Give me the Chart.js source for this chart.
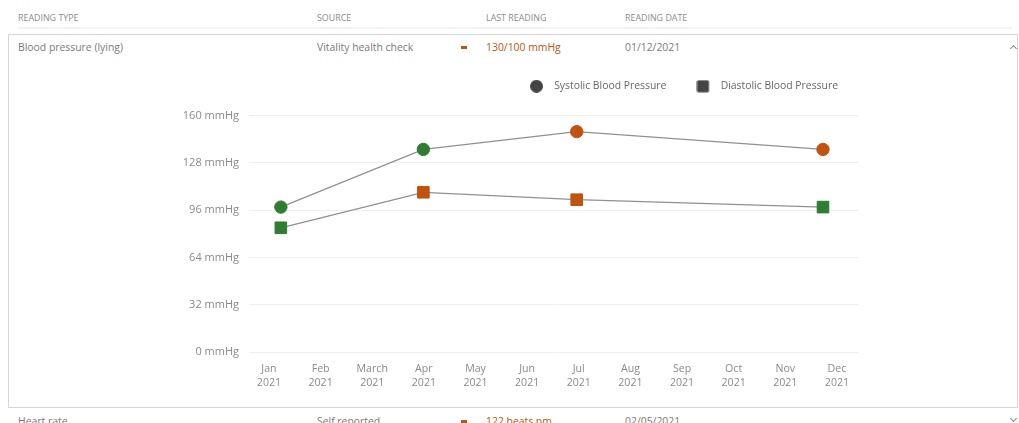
<!DOCTYPE html>
<html>
<head>
<meta charset="utf-8">
<script src="https://cdn.jsdelivr.net/npm/chart.js@4/dist/chart.umd.min.js"></script>
<style>
  body { margin: 0; width: 1019px; height: 423px; overflow: hidden; background: #fff; position: relative;
         font-family: "Open Sans", sans-serif; color: #7a7a7a; }
  .t { position: absolute; white-space: nowrap; line-height: 14px; }
  .hd { font-size: 8.9px; color: #8c8c8c; top: 11px; }
  .rw { font-size: 10.4px; }
  .hi { color: #c0530f; }
  .dash { position: absolute; width: 6px; height: 3px; background: #c0530f; }
  .hline { position: absolute; left: 18px; top: 27px; width: 994px; height: 2px; background: #f3f3f3; }
  .box { position: absolute; left: 8px; top: 34px; width: 1008px; height: 372px; border: 1px solid #d6d6d6; }
  .chev { position: absolute; width: 4px; height: 4px; border-left: 1px solid #888; border-top: 1px solid #888; }
  #wrap { position: absolute; left: 170px; top: 51px; width: 688px; height: 345px; }
</style>
</head>
<body>
<div class="t hd" style="left:18px">READING TYPE</div>
<div class="t hd" style="left:317px">SOURCE</div>
<div class="t hd" style="left:486px">LAST READING</div>
<div class="t hd" style="left:625px">READING DATE</div>
<div class="hline"></div>
<div class="box"></div>

<div class="t rw" style="left:18px;top:40px">Blood pressure (lying)</div>
<div class="t rw" style="left:317px;top:40px">Vitality health check</div>
<div class="dash" style="left:461px;top:46px"></div>
<div class="t rw hi" style="left:486px;top:40px">130/100 mmHg</div>
<div class="t rw" style="left:625px;top:40px">01/12/2021</div>
<div class="chev" style="left:1011px;top:46px;transform:rotate(45deg)"></div>

<div class="t rw" style="left:18px;top:414px">Heart rate</div>
<div class="t rw" style="left:317px;top:414px">Self reported</div>
<div class="dash" style="left:461px;top:420px"></div>
<div class="t rw hi" style="left:486px;top:414px">122 beats pm</div>
<div class="t rw" style="left:625px;top:414px">02/05/2021</div>
<div class="chev" style="left:1011px;top:416px;transform:rotate(225deg)"></div>

<div id="wrap"><canvas id="chart"></canvas></div>

<script>
const monthLabels = ['Jan', 'Feb', 'March', 'Apr', 'May', 'Jun', 'Jul', 'Aug', 'Sep', 'Oct', 'Nov', 'Dec'];
const yearLabel = '2021';
// reading positions along the year, in months from Jan
const readingMonths = [0.23, 2.99, 5.96, 10.73];
const systolic = [98, 137, 149, 137];
const diastolic = [84, 108, 103, 98];
const systolicStatus = ['ok', 'ok', 'high', 'high'];
const diastolicStatus = ['ok', 'high', 'high', 'ok'];
const yTicks = [0, 32, 64, 96, 128, 160];

const statusColor = { ok: '#2e7d32', high: '#c0530f' };
const legendGrey = '#444';

Chart.defaults.font.family = "'Open Sans', sans-serif";
Chart.defaults.font.size = 11;
Chart.defaults.color = '#8a8a8a';

function marker(shape) {
  const c = document.createElement('canvas');
  c.width = 19; c.height = 13;
  const g = c.getContext('2d');
  g.fillStyle = legendGrey;
  if (shape === 'circle') {
    g.beginPath(); g.arc(6.5, 6.5, 6.5, 0, Math.PI * 2); g.fill();
  } else {
    g.beginPath(); g.roundRect(0.5, 0.5, 12, 12, 1.5); g.fill();
  }
  return c;
}

const legendTweak = {
  id: 'legendTweak',
  beforeInit(chart) {
    const fit = chart.legend.fit;
    chart.legend.fit = function () { fit.call(this); this.height += 14; };
  },
  afterLayout(chart) {
    chart.legend.left += 10;
    chart.legend.right += 10;
  }
};

const toPoints = vals => readingMonths.map((m, i) => ({ x: m, y: vals[i] }));

new Chart(document.getElementById('chart'), {
  type: 'line',
  data: {
    datasets: [
      {
        label: 'Systolic Blood Pressure',
        data: toPoints(systolic),
        borderColor: '#909090',
        borderWidth: 1.3,
        pointStyle: 'circle',
        pointRadius: 6.2,
        pointBorderWidth: 1,
        pointBackgroundColor: systolicStatus.map(s => statusColor[s]),
        pointBorderColor: systolicStatus.map(s => statusColor[s])
      },
      {
        label: 'Diastolic Blood Pressure',
        data: toPoints(diastolic),
        borderColor: '#909090',
        borderWidth: 1.3,
        pointStyle: 'rect',
        pointRadius: 8.2,
        pointBorderWidth: 1,
        pointBackgroundColor: diastolicStatus.map(s => statusColor[s]),
        pointBorderColor: diastolicStatus.map(s => statusColor[s])
      }
    ]
  },
  options: {
    responsive: true,
    maintainAspectRatio: false,
    animation: false,
    layout: { autoPadding: false },
    plugins: {
      tooltip: { enabled: false },
      legend: {
        position: 'top',
        align: 'end',
        labels: {
          usePointStyle: true,
          pointStyleWidth: 19,
          padding: 30,
          color: '#666',
          font: { size: 10.4 },
          generateLabels: chart => chart.data.datasets.map((ds, i) => ({
            text: ds.label,
            pointStyle: marker(i === 0 ? 'circle' : 'rect'),
            fillStyle: legendGrey,
            strokeStyle: legendGrey,
            lineWidth: 0,
            fontColor: '#666',
            datasetIndex: i
          }))
        }
      }
    },
    scales: {
      x: {
        type: 'linear',
        min: -0.387,
        max: 11.408,
        grid: { display: false },
        border: { display: false },
        afterBuildTicks: s => { s.ticks = monthLabels.map((_, i) => ({ value: i })); },
        afterFit: s => { s.height = 44; s.paddingLeft = 0; s.paddingRight = 0; },
        ticks: {
          autoSkip: false,
          maxRotation: 0,
          padding: 2,
          font: { size: 10.6, lineHeight: 1.3 },
          callback: v => [monthLabels[v], yearLabel]
        }
      },
      y: {
        min: yTicks[0],
        max: yTicks[yTicks.length - 1],
        grid: { color: '#efefef', drawTicks: false },
        border: { display: false },
        afterBuildTicks: s => { s.ticks = yTicks.map(v => ({ value: v })); },
        afterFit: s => { s.width = 79; },
        ticks: {
          padding: 10,
          callback: v => v + ' mmHg'
        }
      }
    }
  },
  plugins: [legendTweak]
});
</script>
</body>
</html>
